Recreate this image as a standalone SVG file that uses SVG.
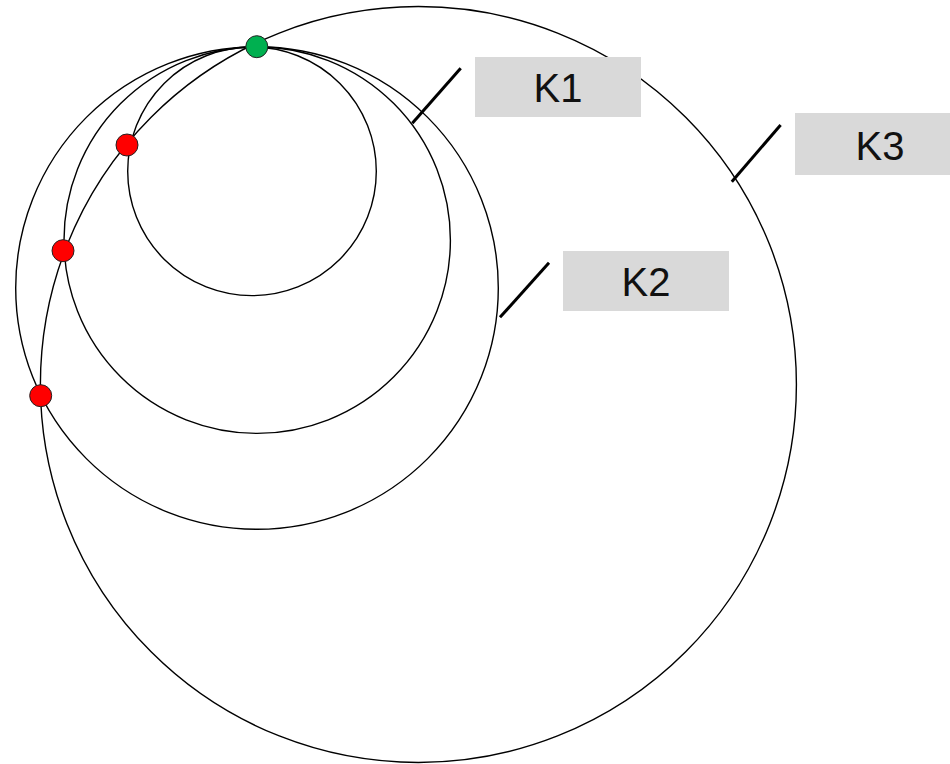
<svg xmlns="http://www.w3.org/2000/svg" width="950" height="764" viewBox="0 0 950 764">
<style>
.c{fill:none;stroke:#000;stroke-width:1.4}
.p{stroke:#000;stroke-width:3;fill:none}
.box{fill:#d9d9d9}
.t{font-family:"Liberation Sans",Arial,sans-serif;font-size:40px;fill:#111;text-anchor:middle}
.red{fill:#ff0000;stroke:#222;stroke-width:1}
.green{fill:#00b050;stroke:#222;stroke-width:1}
</style>
<rect width="950" height="764" fill="#fff"/>
<g id="circles">
<circle id="c1" class="c" cx="252" cy="171.3" r="124.3"/>
<circle id="c2" class="c" cx="257.2" cy="240.2" r="193.2"/>
<circle id="c3" class="c" cx="257" cy="288" r="241.3"/>
<circle id="c4" class="c" cx="418.4" cy="384.5" r="378"/>
</g>
<g id="connectors">
<line class="p" x1="412.3" y1="123.3" x2="460.7" y2="68.3"/>
<line class="p" x1="500" y1="317.3" x2="549" y2="262.7"/>
<line class="p" x1="731.8" y1="181.7" x2="780.6" y2="125"/>
</g>
<g id="K1">
<rect class="box" x="475" y="57" width="166" height="60"/>
<text class="t" x="558" y="101.5">K1</text>
</g>
<g id="K2">
<rect class="box" x="563" y="251" width="166" height="60"/>
<text class="t" x="646" y="295.5">K2</text>
</g>
<g id="K3">
<rect class="box" x="795" y="113" width="170" height="62"/>
<text class="t" x="880" y="159.5">K3</text>
</g>
<g id="points">
<circle class="green" cx="256.8" cy="46.7" r="11"/>
<circle class="red" cx="127" cy="145" r="11"/>
<circle class="red" cx="63" cy="250.7" r="11"/>
<circle class="red" cx="40.7" cy="395.7" r="11"/>
</g>
</svg>
